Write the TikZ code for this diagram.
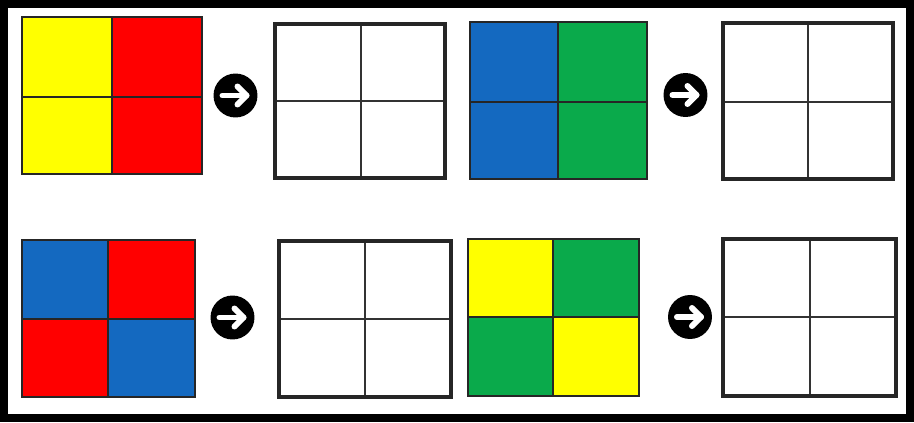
\documentclass[tikz,border=0pt]{standalone}
\usepackage{tikz}
\usetikzlibrary{positioning}
\definecolor{puzzleyellow}{RGB}{255,255,0}
\definecolor{puzzlered}{RGB}{255,0,0}
\definecolor{puzzleblue}{RGB}{20,105,192}
\definecolor{puzzlegreen}{RGB}{10,170,75}

\begin{document}
\begin{tikzpicture}[x=0.02cm, y=-0.02cm,
    frameline/.style={line width=4.8pt},
    emptyline/.style={line width=2pt},
    cellline/.style={line width=1.3pt},
    arrowdot/.style={circle, fill=black, minimum size=0.88cm, inner sep=0pt},
    arrowline/.style={white, line width=3.4pt, line cap=round, line join=round}]

    \useasboundingbox (0,0) rectangle (914,423);

    % Outer frame
    \draw[frameline] (4,4) rectangle (910,418);

    % Coloured squares: left/top/right/bottom/mid x/mid y/colours (tl, tr, bl, br)
    \foreach \l/\t/\r/\b/\mx/\my/\ca/\cb/\cc/\cd in {
        22/17/202/174/112/97/puzzleyellow/puzzlered/puzzleyellow/puzzlered,
        470/22/647/179/558/102/puzzleblue/puzzlegreen/puzzleblue/puzzlegreen,
        22/240/195/397/108/319/puzzleblue/puzzlered/puzzlered/puzzleblue,
        468/239/639/396/553/317/puzzleyellow/puzzlegreen/puzzlegreen/puzzleyellow} {
        \fill[\ca] (\l,\t) rectangle (\mx,\my);
        \fill[\cb] (\mx,\t) rectangle (\r,\my);
        \fill[\cc] (\l,\my) rectangle (\mx,\b);
        \fill[\cd] (\mx,\my) rectangle (\r,\b);
        \draw[cellline, black!85] (\l,\t) rectangle (\r,\b) (\mx,\t) -- (\mx,\b) (\l,\my) -- (\r,\my);
    }

    % Empty squares to fill in
    \foreach \l/\t/\r/\b/\mx/\my in {275/24/445/178/361/101, 723/23/893/179/808/102,
        279/241/451/397/365/319, 723/239/896/396/810/317} {
        \draw[cellline, black!80] (\mx,\t) -- (\mx,\b) (\l,\my) -- (\r,\my);
        \draw[emptyline, black!85] (\l,\t) rectangle (\r,\b);
    }

    % Arrow dots between the squares
    \foreach \n/\x/\y in {arrowA/235.5/95.5, arrowB/685.5/95, arrowC/232.5/317.5, arrowD/690/317} {
        \node[arrowdot] (\n) at (\x,\y) {};
        \draw[arrowline] ([shift={(-13,0)}]\n.center) -- ([shift={(11,0)}]\n.center);
        \draw[arrowline] ([shift={(2,-9)}]\n.center) -- ([shift={(11,0)}]\n.center) -- ([shift={(2,9)}]\n.center);
    }

\end{tikzpicture}
\end{document}
